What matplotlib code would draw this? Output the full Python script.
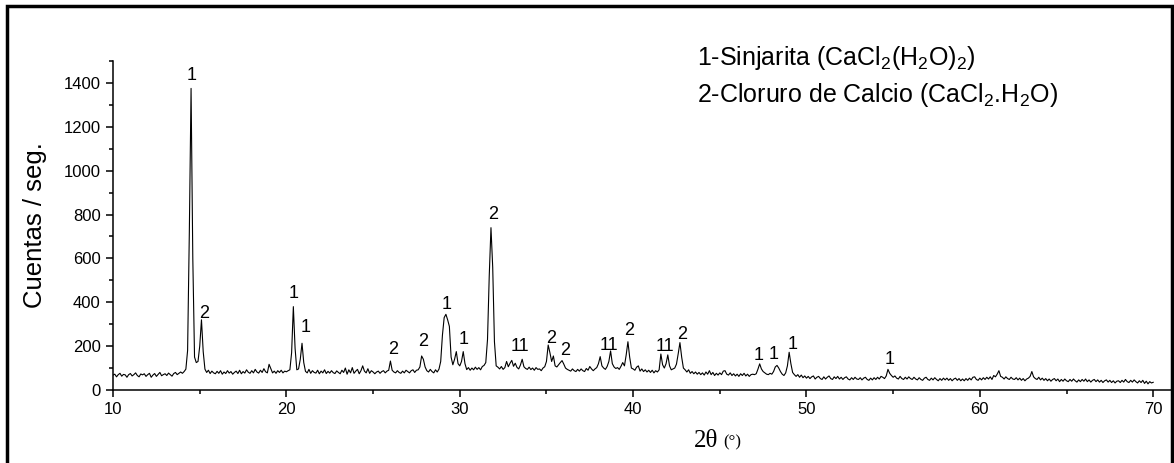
import numpy as np
import matplotlib
matplotlib.use("Agg")
import matplotlib.pyplot as plt
from matplotlib.ticker import MultipleLocator
from matplotlib.patches import Rectangle

plt.rcParams['font.family'] = ['Liberation Sans', 'DejaVu Sans']
plt.rcParams['mathtext.fontset'] = 'custom'
plt.rcParams['mathtext.rm'] = 'Liberation Sans'

# 2theta grid, 0.1 deg step from 10 to 70
two_theta_start, two_theta_step = 10.0, 0.1

# counts per second, one row per degree (x.0 ... x.9)
counts = [
	68, 72, 60, 70, 76, 63, 71, 69, 58, 70,        # 10
	75, 64, 70, 78, 66, 60, 73, 69, 74, 62,        # 11
	70, 76, 58, 68, 75, 62, 71, 80, 65, 70,        # 12
	74, 66, 77, 70, 63, 75, 80, 70, 76, 82,        # 13
	76, 84, 95, 180, 720, 1375, 600, 150, 125, 130,  # 14
	200, 320, 175, 95, 80, 90, 75, 86, 78, 74,     # 15
	85, 76, 88, 72, 82, 75, 88, 77, 84, 72,        # 16
	80, 86, 75, 90, 74, 84, 77, 92, 81, 76,        # 17
	88, 78, 94, 82, 77, 90, 80, 97, 83, 78,        # 18
	117, 98, 78, 86, 76, 88, 80, 90, 78, 86,       # 19
	83, 88, 92, 170, 380, 190, 92, 96, 140, 213,   # 20
	125, 85, 78, 94, 76, 88, 80, 77, 90, 74,       # 21
	86, 78, 92, 75, 85, 77, 88, 79, 75, 87,        # 22
	80, 74, 90, 80, 100, 72, 92, 78, 102, 76,      # 23
	86, 94, 74, 88, 110, 86, 78, 97, 76, 88,       # 24
	82, 74, 82, 86, 76, 84, 88, 78, 86, 90,        # 25
	132, 90, 82, 78, 88, 80, 76, 86, 78, 90,       # 26
	84, 78, 88, 92, 80, 90, 92, 105, 155, 140,     # 27
	105, 88, 82, 94, 84, 78, 92, 82, 95, 130,      # 28
	250, 330, 345, 320, 290, 150, 115, 140, 175, 120,  # 29
	110, 130, 175, 120, 93, 102, 90, 100, 92, 104, # 30
	94, 102, 92, 107, 112, 125, 230, 520, 740, 560,  # 31
	220, 110, 104, 96, 107, 94, 102, 130, 106, 122,  # 32
	135, 108, 122, 103, 96, 114, 140, 106, 98, 94, # 33
	104, 93, 100, 90, 102, 94, 96, 88, 100, 106,   # 34
	130, 205, 170, 130, 155, 110, 105, 115, 125, 134,  # 35
	118, 100, 94, 90, 86, 96, 88, 84, 94, 86,      # 36
	96, 88, 84, 98, 90, 107, 96, 88, 96, 102,      # 37
	120, 152, 110, 100, 94, 107, 130, 178, 120, 105,  # 38
	98, 102, 94, 108, 125, 110, 160, 220, 150, 100,  # 39
	96, 90, 104, 110, 86, 96, 84, 92, 82, 90,      # 40
	80, 90, 78, 88, 82, 92, 164, 115, 100, 120,    # 41
	160, 110, 92, 96, 100, 118, 165, 216, 150, 100,  # 42
	92, 82, 92, 76, 84, 74, 82, 72, 80, 70,        # 43
	78, 68, 82, 72, 88, 70, 80, 66, 76, 68,        # 44
	78, 70, 86, 88, 72, 68, 78, 66, 74, 64,        # 45
	72, 62, 74, 66, 76, 64, 72, 62, 70, 72,        # 46
	70, 74, 95, 119, 96, 84, 78, 72, 70, 76,       # 47
	72, 84, 105, 112, 100, 84, 72, 66, 78, 110,    # 48
	172, 120, 80, 70, 62, 70, 58, 68, 56, 64,      # 49
	54, 62, 52, 60, 64, 50, 58, 62, 52, 48,        # 50
	60, 50, 58, 64, 52, 48, 60, 52, 62, 50,        # 51
	58, 48, 56, 60, 50, 46, 56, 48, 58, 50,        # 52
	48, 56, 46, 54, 58, 48, 44, 54, 46, 56,        # 53
	48, 58, 50, 62, 58, 52, 64, 94, 76, 66,        # 54
	58, 64, 54, 50, 62, 52, 48, 58, 50, 60,        # 55
	52, 48, 58, 50, 46, 56, 48, 44, 54, 58,        # 56
	48, 44, 54, 46, 56, 48, 42, 52, 44, 54,        # 57
	46, 54, 44, 52, 42, 50, 54, 44, 52, 42,        # 58
	50, 42, 52, 44, 54, 46, 58, 60, 48, 44,        # 59
	54, 46, 56, 48, 58, 50, 60, 48, 66, 60,        # 60
	72, 88, 62, 58, 50, 60, 52, 48, 58, 50,        # 61
	48, 56, 46, 54, 44, 52, 42, 50, 54, 62,        # 62
	84, 60, 52, 48, 58, 46, 54, 44, 52, 42,        # 63
	50, 40, 48, 52, 42, 50, 38, 48, 40, 50,        # 64
	42, 38, 48, 40, 50, 42, 36, 46, 38, 48,        # 65
	40, 50, 38, 46, 36, 44, 48, 38, 46, 36,        # 66
	44, 34, 42, 46, 36, 44, 34, 42, 32, 40,        # 67
	42, 34, 44, 36, 48, 38, 34, 44, 36, 46,        # 68
	38, 32, 42, 34, 44, 30, 40, 28, 38, 32,        # 69
	35,                                            # 70
]

# peak labels: phase number, position (2theta), height of label
peak_labels = ['1', '2', '1', '1', '2', '2', '1', '1', '2', '11', '2', '2', '11', '2', '11', '2', '1', '1', '1', '1']
peak_x = [14.54, 15.25, 20.4, 21.08, 26.18, 27.88, 29.27, 30.23, 31.9, 33.46, 35.29, 36.06, 38.6, 39.75, 41.81, 42.83, 47.26, 48.12, 49.22, 54.77]
peak_y = [1436, 347, 440, 286, 185, 220, 388, 228, 800, 197, 236, 182, 205, 270, 197, 251, 155, 160, 208, 137]

legend_lines = ['1-Sinjarita (CaCl$_\\mathrm{2}$(H$_\\mathrm{2}$O)$_\\mathrm{2}$)',
				'2-Cloruro de Calcio (CaCl$_\\mathrm{2}$.H$_\\mathrm{2}$O)']

y = np.array(counts)
x = two_theta_start + two_theta_step * np.arange(len(y))

fig = plt.figure(figsize=(11.74, 4.63), dpi=100)
ax = fig.add_axes([0.0963, 0.1577, 0.9037, 0.7106])

ax.plot(x, y, color='black', linewidth=0.8)

for lab, px, py in zip(peak_labels, peak_x, peak_y):
	ax.text(px, py, lab, ha='center', va='center', fontsize=13)

ax.set_xlim(10, 71.2)
ax.set_ylim(0, 1500)
ax.xaxis.set_minor_locator(MultipleLocator(5))
ax.yaxis.set_minor_locator(MultipleLocator(100))
ax.set_xticks([10, 20, 30, 40, 50, 60, 70])
ax.set_yticks([0, 200, 400, 600, 800, 1000, 1200, 1400])

ax.spines['right'].set_color('none')
ax.spines['top'].set_color('none')
ax.spines['left'].set_linewidth(1.1)
ax.spines['bottom'].set_linewidth(1.1)
ax.tick_params(which='major', direction='out', length=5, width=1.1, labelsize=12, pad=4)
ax.tick_params(which='minor', direction='out', length=3, width=1.1)

ax.set_ylabel('Cuentas / seg.', fontsize=18.5, labelpad=12)

# x label: "2θ" and a smaller "(°)"
fig.text(0.612, 0.035, '2\u03b8', ha='right', va='baseline', fontsize=18,
		 family=['Liberation Serif', 'DejaVu Serif'])
fig.text(0.616, 0.035, '(\u00b0)', ha='left', va='baseline', fontsize=12,
		 family=['Liberation Serif', 'DejaVu Serif'])

# composition legend
fig.text(0.594, 0.875, legend_lines[0], ha='left', va='center', fontsize=18)
fig.text(0.594, 0.795, legend_lines[1], ha='left', va='center', fontsize=18)

# frame around the whole picture
fig.patches.append(Rectangle((0.006, -0.02), 0.992, 1.007, transform=fig.transFigure,
							 fill=False, edgecolor='black', linewidth=2.5))

fig.savefig('out.png', dpi=100)
